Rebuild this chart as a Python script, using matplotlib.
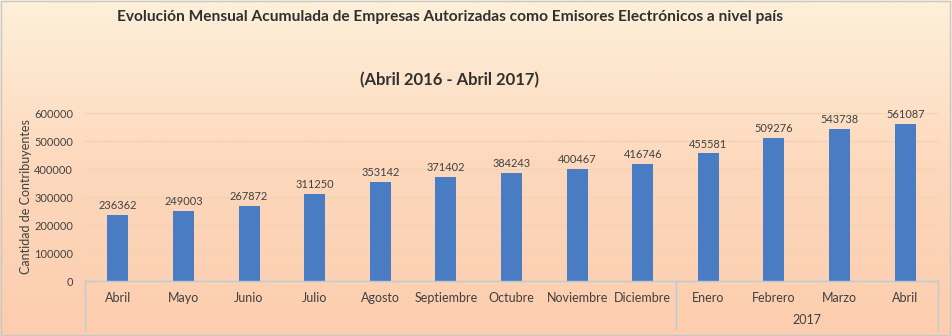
import matplotlib
matplotlib.use("Agg")
import matplotlib.pyplot as plt
import numpy as np
from matplotlib.colors import LinearSegmentedColormap

months = ["Abril", "Mayo", "Junio", "Julio", "Agosto", "Septiembre", "Octubre",
          "Noviembre", "Diciembre", "Enero", "Febrero", "Marzo", "Abril"]
values = [236362, 249003, 267872, 311250, 353142, 371402, 384243,
          400467, 416746, 455581, 509276, 543738, 561087]
year_groups = [("", 0, 8), ("2017", 9, 12)]
yticks = [0, 100000, 200000, 300000, 400000, 500000, 600000]

title = "Evolución Mensual Acumulada de Empresas Autorizadas como Emisores Electrónicos a nivel país"
subtitle = "(Abril 2016 - Abril 2017)"
ylabel = "Cantidad de Contribuyentes"

plt.rcParams['font.family'] = ['Lato', 'DejaVu Sans']
W, H = 952, 336
fig = plt.figure(figsize=(W/100, H/100), dpi=100)

# background gradient
bg = fig.add_axes([0, 0, 1, 1], zorder=-10)
cmap = LinearSegmentedColormap.from_list("bg", ["#fdf0da", "#fdd8bc", "#fccdae"])
grad = np.linspace(0, 1, 256).reshape(-1, 1)
bg.imshow(grad, aspect='auto', cmap=cmap, extent=[0, 1, 0, 1], origin='upper')
bg.set_xlim(0, 1); bg.set_ylim(0, 1)
bg.axis('off')
bg.add_patch(plt.Rectangle((0.001, 0.002), 0.997, 0.995, fill=False, ec="#c8c8c8", lw=1.0))

left, right = 85 / W, 938 / W
bottom, top = 1 - 281 / H, 1 - 113 / H
ax = fig.add_axes([left, bottom, right - left, top - bottom])
ax.patch.set_alpha(0)
n = len(months)
x = np.arange(n)
ax.bar(x, values, width=0.32, color="#4a7cc4", zorder=3)
ax.set_xlim(-0.5, n - 0.5)
ax.set_ylim(0, 600000)
ax.set_yticks(yticks)
ax.set_yticklabels([str(v) for v in yticks], fontsize=7.9, color="#404040")
ax.tick_params(axis='y', length=0, pad=8.6)
ax.set_xticks([])
ax.grid(axis='y', color="#f0d2b8", lw=0.9, zorder=0)
for s in ax.spines.values():
    s.set_visible(False)
for xi, v in zip(x, values):
    ax.text(xi, v + 14000, str(v), ha='center', va='bottom', fontsize=7.9, color="#404040")
ax.set_ylabel(ylabel, fontsize=9, color="#404040")
ax.yaxis.set_label_coords(-53 / (938 - 85), 0.5)

# category axis lines (figure pixel coords)
line_col = "#b8ccd8"
def fx(px):
    return px / W
def fy(py):
    return 1 - py / H
fig.add_artist(plt.Line2D([fx(85), fx(938)], [fy(281), fy(281)], color=line_col, lw=1))
sep = 8.5
px_per = (938 - 85) / n
for bx in [85, 85 + (sep + 0.5) * px_per, 938]:
    fig.add_artist(plt.Line2D([fx(bx), fx(bx)], [fy(281), fy(329)], color=line_col, lw=1))
for xi, m in zip(x, months):
    fig.text(fx(85 + (xi + 0.5) * px_per), fy(298), m, ha='center', va='center',
             fontsize=9, color="#404040")
for lab, a, b in year_groups:
    if lab:
        fig.text(fx(85 + ((a + b) / 2 + 0.5) * px_per), fy(320), lab, ha='center',
                 va='center', fontsize=9, color="#404040")

fig.text(fx(450), fy(17), title, ha='center', va='center', fontsize=11.2,
         fontweight='bold', color="#303030")
fig.text(fx(450), fy(80), subtitle, ha='center', va='center', fontsize=12,
         fontweight='bold', color="#303030")

fig.savefig("out.png", dpi=100)
